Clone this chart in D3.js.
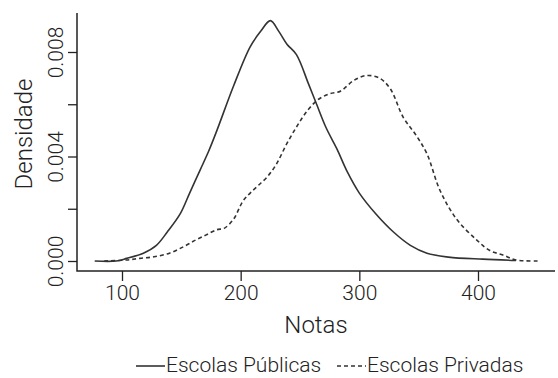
<!DOCTYPE html>
<html>
<head>
    <meta charset="utf-8">
    <style>
        body { margin: 0; background: white; }
        svg { display: block; }
        text { font-family: Roboto, 'Liberation Sans', sans-serif; font-weight: 300; fill: #222; }
    </style>
</head>
<body>
<svg width="558" height="378"></svg>
<script src="https://d3js.org/d3.v7.min.js"></script>
<script>
    // densidade estimada - escolas publicas
    let notasPublicas = [77, 95, 104, 118, 129, 138, 149, 157, 166, 173, 180, 194, 208, 217, 225, 232, 239, 247, 257, 264, 272, 281, 290, 300, 314, 329, 343, 357, 375, 404, 432]
    let densPublicas = [0, 0, 0.0001, 0.0003, 0.0006, 0.0011, 0.0018, 0.0026, 0.0035, 0.0042, 0.0050, 0.0067, 0.0082, 0.0088, 0.0092, 0.0088, 0.0083, 0.0079, 0.0068, 0.0060, 0.0051, 0.0043, 0.0034, 0.0026, 0.0018, 0.0011, 0.0006, 0.0003, 0.00015, 0.00007, 0.00002]

    // escolas privadas
    let notasPrivadas = [85, 104, 115, 127, 140, 152, 162, 171, 180, 186, 194, 202, 208, 215, 222, 230, 239, 248, 257, 266, 275, 284, 295, 306, 317, 326, 337, 348, 357, 368, 382, 399, 410, 421, 432, 452]
    let densPrivadas = [0, 0.00004, 0.0001, 0.00016, 0.0003, 0.00055, 0.0008, 0.0010, 0.0012, 0.00125, 0.0016, 0.0023, 0.0026, 0.0029, 0.0032, 0.0037, 0.0045, 0.0052, 0.0058, 0.0062, 0.0064, 0.0065, 0.0069, 0.0071, 0.0070, 0.0066, 0.0055, 0.0048, 0.0041, 0.0027, 0.0016, 0.0008, 0.0004, 0.00023, 0.00004, 0]

    let xTicks = [100, 200, 300, 400]
    let yTicks = [0, 0.002, 0.004, 0.006, 0.008]
    let yTickLabels = ["0.000", "", "0.004", "", "0.008"]
    let legendLabels = ["Escolas Públicas", "Escolas Privadas"]

    let svg = d3.select("svg")
    let mLeft = 77, mRight = 555, mTop = 13, mBottom = 271

    let x = d3.scaleLinear().domain([100, 400]).range([122, 478])
    let y = d3.scaleLinear().domain([0, 0.008]).range([261, 52])

    // caixa em L
    svg.append("path")
        .attr("d", `M${mLeft},${mTop}V${mBottom}H${mRight}`)
        .attr("fill", "none")
        .attr("stroke", "#222")
        .attr("stroke-width", 1.5)

    let xAxis = svg.append("g")
        .attr("transform", `translate(0,${mBottom})`)
        .call(d3.axisBottom(x).tickValues(xTicks).tickSize(10).tickPadding(4).tickFormat(d3.format("d")))
    xAxis.select(".domain").remove()
    xAxis.selectAll("line").attr("stroke", "#222").attr("stroke-width", 1.3)
    xAxis.selectAll("text")
        .attr("font-size", 21)
        .attr("font-family", "Roboto, sans-serif")
        .attr("font-weight", 300)
        .attr("fill", "#222")

    let yAxis = svg.append("g")
        .attr("transform", `translate(${mLeft},0)`)
        .call(d3.axisLeft(y).tickValues(yTicks).tickSize(9).tickFormat((d, i) => yTickLabels[i]))
    yAxis.select(".domain").remove()
    yAxis.selectAll("line").attr("stroke", "#222").attr("stroke-width", 1.3)
    yAxis.selectAll("text")
        .attr("transform", "rotate(-90)")
        .attr("x", 0)
        .attr("y", -14)
        .attr("dy", 0)
        .attr("text-anchor", "middle")
        .attr("font-size", 21)
        .attr("font-family", "Roboto, sans-serif")
        .attr("font-weight", 300)
        .attr("fill", "#222")

    svg.append("text")
        .attr("transform", "translate(32,134) rotate(-90)")
        .attr("text-anchor", "middle")
        .attr("font-size", 24)
        .text("Densidade")

    svg.append("text")
        .attr("x", (mLeft + mRight) / 2)
        .attr("y", 333)
        .attr("text-anchor", "middle")
        .attr("font-size", 24)
        .text("Notas")

    let line = d3.line()
        .x(d => x(d[0]))
        .y(d => y(d[1]))
        .curve(d3.curveCatmullRom)

    svg.append("path")
        .datum(d3.zip(notasPrivadas, densPrivadas))
        .attr("d", line)
        .attr("fill", "none")
        .attr("stroke", "#333")
        .attr("stroke-width", 1.6)
        .attr("stroke-dasharray", "4,3")

    svg.append("path")
        .datum(d3.zip(notasPublicas, densPublicas))
        .attr("d", line)
        .attr("fill", "none")
        .attr("stroke", "#333")
        .attr("stroke-width", 1.6)

    // legenda
    let legendX = [136, 337]
    let legendDash = [null, "4,3"]
    legendLabels.forEach((lab, i) => {
        svg.append("line")
            .attr("x1", legendX[i]).attr("x2", legendX[i] + 29)
            .attr("y1", 366).attr("y2", 366)
            .attr("stroke", "#333")
            .attr("stroke-width", 1.6)
            .attr("stroke-dasharray", legendDash[i])
        svg.append("text")
            .attr("x", legendX[i] + 30)
            .attr("y", 372)
            .attr("font-size", 21)
            .text(lab)
    })
</script>
</body>
</html>
